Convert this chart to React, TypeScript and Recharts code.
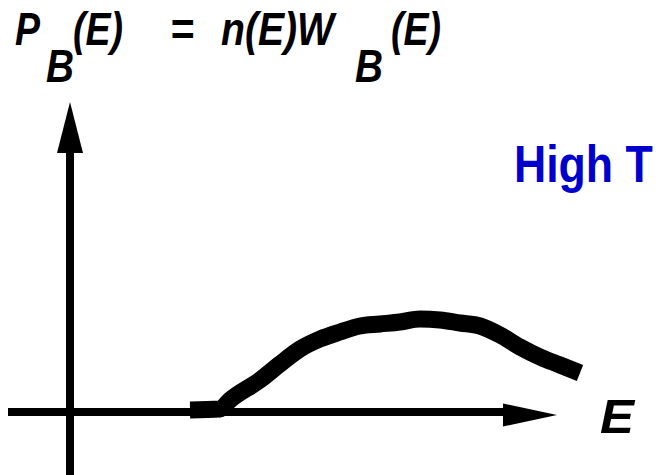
import React from "react";
import {
  LineChart,
  Line,
  XAxis,
  YAxis,
  ReferenceLine,
  ReferenceDot,
} from "recharts";

// energy (arbitrary units) and the Boltzmann-weighted occupation P_B(E)
const energy = [6.0, 7.5, 8.0, 9.5, 10.5, 11.5, 12.5, 13.5, 14.5, 15.5, 16.5, 17.5, 18.5, 19.5, 20.5, 21.5, 22.5, 23.5, 24.5, 25.5];
const occupation = [0.2, 0.3, 1.2, 3.2, 4.8, 6.3, 7.3, 8.0, 8.6, 8.8, 9.0, 9.3, 9.2, 8.9, 8.6, 7.7, 6.5, 5.5, 4.7, 3.9];

const eAxisEnd = 24.35;
const pAxisEnd = 31;

const data = energy.map((e, i) => ({ e, p: occupation[i] }));

const font = '"Liberation Sans", Arial, Helvetica, sans-serif';

const UpArrow = ({ cx, cy }: any) => (
  <polygon points={`${cx},${cy} ${cx - 13},${cy + 51} ${cx + 13},${cy + 51}`} fill="#000" />
);

const RightArrow = ({ cx, cy }: any) => (
  <polygon points={`${cx},${cy} ${cx - 54},${cy - 11.5} ${cx - 54},${cy + 11.5}`} fill="#000" />
);

// bold italic text squeezed to a fixed run length
function Word({ x, y, w, children, size = 46 }: any) {
  return (
    <text
      x={x}
      y={y}
      textLength={w}
      lengthAdjust="spacingAndGlyphs"
      fontFamily={font}
      fontWeight="bold"
      fontStyle="italic"
      fontSize={size}
      fill="#000"
    >
      {children}
    </text>
  );
}

export default function App() {
  return (
    <div style={{ position: "absolute", left: 0, top: 0, width: 659, height: 475, background: "#fff" }}>
      <LineChart
        width={659}
        height={475}
        data={data}
        margin={{ top: 112, right: 69, bottom: 63, left: 70 }}
      >
        <XAxis type="number" dataKey="e" domain={[0, 26]} hide />
        <YAxis type="number" domain={[0, 30]} hide />
        <ReferenceLine
          segment={[{ x: -3.1, y: 0 }, { x: eAxisEnd - 2, y: 0 }]}
          stroke="#000"
          strokeWidth={8}
          ifOverflow="visible"
        />
        <ReferenceLine
          segment={[{ x: 0, y: -6.5 }, { x: 0, y: pAxisEnd - 4 }]}
          stroke="#000"
          strokeWidth={8}
          ifOverflow="visible"
        />
        <ReferenceDot x={0} y={pAxisEnd} ifOverflow="visible" shape={UpArrow} />
        <ReferenceDot x={eAxisEnd} y={-0.3} ifOverflow="visible" shape={RightArrow} />
        <Line
          type="monotone"
          dataKey="p"
          stroke="#000"
          strokeWidth={17}
          strokeLinejoin="round"
          dot={false}
          isAnimationActive={false}
        />
      </LineChart>
      <svg
        width={659}
        height={475}
        style={{ position: "absolute", left: 0, top: 0, pointerEvents: "none" }}
      >
        <Word x={15} y={45} w={25}>P</Word>
        <Word x={46} y={82} w={28}>B</Word>
        <Word x={73} y={45} w={50}>(E)</Word>
        <Word x={170} y={45} w={24}>=</Word>
        <Word x={221} y={45} w={113}>n(E)W</Word>
        <Word x={355} y={82} w={28}>B</Word>
        <Word x={391} y={45} w={50}>(E)</Word>
        <Word x={600} y={433} w={34} size={49}>E</Word>
        <text
          transform="translate(514,182) scale(0.875,1)"
          fontFamily={font}
          fontWeight="bold"
          fontSize={51}
          fill="#0000CC"
        >
          High T
        </text>
      </svg>
    </div>
  );
}
